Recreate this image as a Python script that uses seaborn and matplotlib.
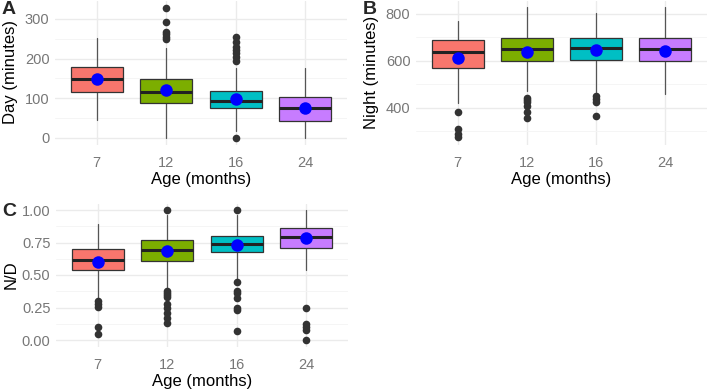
import numpy as np
import pandas as pd
import seaborn as sns
import matplotlib.pyplot as plt

ages = ["7", "12", "16", "24"]
box_colors = ["#F8766D", "#7CAE00", "#00BFC4", "#C77CFF"]

# A: day (minutes)
day_q1 = [115, 88, 75, 44]
day_med = [149, 117, 94, 75]
day_q3 = [178, 149, 119, 104]
day_lo = [45, 0, 18, 0]
day_hi = [253, 227, 176, 176]
day_mean = [148, 120, 98, 76]
day_out = [[], [249, 255, 262, 268, 293, 327], [0, 194, 205, 215, 222, 230, 243, 255], []]

# B: night (minutes)
night_q1 = [567, 600, 604, 597]
night_med = [635, 648, 655, 648]
night_q3 = [687, 696, 696, 696]
night_lo = [420, 470, 465, 457]
night_hi = [768, 829, 804, 829]
night_mean = [613, 636, 646, 643]
night_out = [[379, 307, 286, 272], [439, 430, 422, 407, 379, 357], [450, 435, 424, 364], []]

# C: N/D ratio
nd_q1 = [0.54, 0.61, 0.675, 0.71]
nd_med = [0.615, 0.69, 0.74, 0.795]
nd_q3 = [0.698, 0.77, 0.80, 0.86]
nd_lo = [0.31, 0.40, 0.47, 0.54]
nd_hi = [0.89, 0.96, 0.96, 1.0]
nd_mean = [0.60, 0.685, 0.73, 0.785]
nd_out = [[0.30, 0.28, 0.255, 0.10, 0.05],
          [1.0, 0.38, 0.36, 0.35, 0.33, 0.28, 0.245, 0.205, 0.17, 0.13],
          [1.0, 0.45, 0.38, 0.36, 0.32, 0.25, 0.23, 0.07],
          [0.245, 0.12, 0.10, 0.08, 0.0]]

sns.set_theme(style="whitegrid")
plt.rcParams["font.family"] = ["Liberation Sans", "DejaVu Sans"]

W, H = 709, 390
fig = plt.figure(figsize=(W / 100, H / 100), dpi=100)


def px_axes(x0, top, x1, bottom):
    return fig.add_axes([x0 / W, 1 - bottom / H, (x1 - x0) / W, (bottom - top) / H])


def draw_panel(ax, q1, med, q3, lo, hi, mean, out, ylim, major, minor, ylabel, fmt):
    flier_df = pd.DataFrame({
        "age": [a for a, vals in zip(ages, out) for _ in vals],
        "value": [v for vals in out for v in vals],
    })
    mean_df = pd.DataFrame({"age": ages, "value": mean})
    sns.stripplot(data=flier_df, x="age", y="value", order=ages, jitter=False,
                  color="#333333", size=5.5, linewidth=0, ax=ax, zorder=3)
    sns.stripplot(data=mean_df, x="age", y="value", order=ages, jitter=False,
                  color="#0000FF", size=9, linewidth=0, ax=ax, zorder=6)

    stats = [dict(q1=a, med=b, q3=c, whislo=d, whishi=e, fliers=[])
             for a, b, c, d, e in zip(q1, med, q3, lo, hi)]
    bp = ax.bxp(stats, positions=range(4), widths=0.75, patch_artist=True,
                showfliers=False, showcaps=False, manage_ticks=False,
                boxprops=dict(edgecolor="#333333", linewidth=0.9),
                medianprops=dict(color="#222222", linewidth=2.2),
                whiskerprops=dict(color="#555555", linewidth=0.9))
    for patch, col in zip(bp["boxes"], box_colors):
        patch.set_facecolor(col)
        patch.set_zorder(4)
    for m in bp["medians"]:
        m.set_zorder(5)

    ax.set_xlim(-0.6, 3.6)
    ax.set_ylim(*ylim)
    ax.set_yticks(major)
    ax.set_yticklabels([fmt.format(v) for v in major])
    ax.set_yticks(minor, minor=True)
    ax.grid(which="major", color="#ebebeb", linewidth=1.0)
    ax.grid(which="minor", axis="y", color="#f4f4f4", linewidth=0.6)
    ax.xaxis.grid(True)
    ax.set_axisbelow(True)
    for s in ax.spines.values():
        s.set_visible(False)
    ax.tick_params(axis="both", which="both", length=0, labelsize=10.5, labelcolor="#777777")
    ax.tick_params(axis="y", pad=4)
    ax.tick_params(axis="x", pad=8)
    ax.set_xlabel("Age (months)", fontsize=12, color="black", va="top")
    ax.set_ylabel(ylabel, fontsize=12, color="black", va="center")
    ax.xaxis.set_label_coords(0.5, -0.19)
    ax.yaxis.set_label_coords(-0.152, 0.5)


ax_a = px_axes(55, 0.5, 347, 144.5)
draw_panel(ax_a, day_q1, day_med, day_q3, day_lo, day_hi, day_mean, day_out,
           (-16.5, 346.5), [0, 100, 200, 300], [50, 150, 250], "Day (minutes)", "{:.0f}")

ax_b = px_axes(416, 0.5, 707, 144.5)
draw_panel(ax_b, night_q1, night_med, night_q3, night_lo, night_hi, night_mean, night_out,
           (242, 857), [400, 600, 800], [300, 500, 700], "Night (minutes)", "{:.0f}")

ax_c = px_axes(56, 203.5, 348, 346.5)
draw_panel(ax_c, nd_q1, nd_med, nd_q3, nd_lo, nd_hi, nd_mean, nd_out,
           (-0.05, 1.05), [0, 0.25, 0.5, 0.75, 1.0], [0.125, 0.375, 0.625, 0.875],
           "N/D", "{:.2f}")

for letter, x, y in [("A", 2, 1), ("B", 363, 1), ("C", 2, 203)]:
    fig.text(x / W, 1 - y / H, letter, fontsize=14, fontweight="bold", va="top", ha="left")

fig.savefig("out.png", dpi=100)
